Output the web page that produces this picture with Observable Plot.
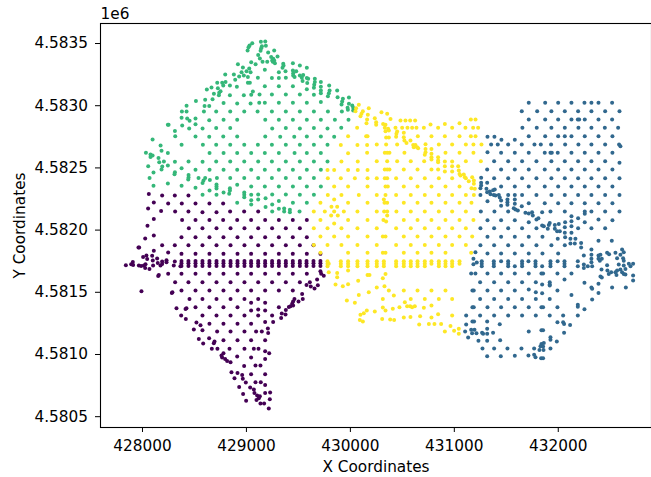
<!DOCTYPE html>
<html><head><meta charset="utf-8">
<style>html,body{margin:0;padding:0;background:#fff}svg{display:block}</style>
<script src="https://cdn.jsdelivr.net/npm/d3@7"></script>
<script src="https://cdn.jsdelivr.net/npm/@observablehq/plot@0.6"></script>
</head><body><div id="chart"></div>
<script>
// Eastings / northings are offsets from these bases (metres). Rows: [northing, [eastings...]]
const baseX = 427000, baseY = 4580000;
const xTicks = [428000, 429000, 430000, 431000, 432000];
const yTicks = [4580500, 4581000, 4581500, 4582000, 4582500, 4583000, 4583500];
const clusters = ["c0", "c1", "c2", "c3"];
const colors = ["#440154", "#31688e", "#35b779", "#fde725"];
const mainPurple = [1375,1442,1510,1577,1644,1712,1779,1847,1914,1981,2045,2113,2180,2247,2312,2379,2446,2514,2578,2645,2712];
const purpleRows = [
[2291,[1061]],[2278,[1189,1311,1442]],[2221,[1109]],[2213,[1247,1378,1510,1644,1776]],[2173,[1054]],[2154,[1179]],
[2149,[1314,1442,1843,1978,2113]],[2144,[1577,1712]],[2090,[1109]],[2082,[1381,1510,1644,1776,1911,2045,2180,2312,2446,2581]],
[2034,[1048]],[2015,[1446,1577,1712,1847,1981,2113,2247,2379,2514]],[1956,[1109]],[1932,[1026]],
[1943,[1375,1510,1644,1779,1914,2045,2180,2312,2446,2581]],[1878,[1189,1311,1442,1577,1712,1847,1981,2113,2247,2379,2514,2645]],
[1860,[961,968]],[1835,[1109]],[1819,[1247]],[1809,[1375,1510,1644,1779,1914,2045,2180,2312,2446,2581,2712]],
[1784,[1006]],[1795,[1038]],[1793,[1093]],[1768,[1045]],[1755,[1099]],[1771,[1141]],[1747,[1189,1311]],[1758,[1231]],[1742,[1231]],
[1752,mainPurple],[1734,mainPurple],[1712,mainPurple],
[1717,[840]],[1725,[891,1029]],[1744,[907]],[1720,[910]],[1715,[965,1013,1102,1173,1301]],[1712,[987]],[1696,[1026]],[1688,[1067]],[1736,[1147]],[1728,[1189]],[1709,[1365]],
[1650,[1247,1375,1510,1644,1779,1914,2045,2180,2312,2446,2581,2719]],[1640,[1157]],[1632,[1151]],[1669,[2712]],[1634,[2744]],[1602,[2680]],
[1581,[1314,1442,1577,1712,1847,1981,2113,2247,2379,2514,2610]],[1559,[2578]],[1546,[2619]],[1530,[2655]],[1557,[2687]],
[1514,[1375,1510,1644,1779,1914,2045,2180,2312,2446]],[1508,[990]],[1500,[1288]],[1495,[1282]],
[1447,[1452,1577,1712,1847,1981,2113,2462,2542]],[1487,[2536]],[1425,[2501,2449]],[1407,[2440]],[1388,[2424]],[1393,[2449]],[1382,[2408]],[1358,[2379]],[1380,[2312,1510,1644,1779,1914]],
[1415,[2045,2180]],[1372,[1327,1423]],[1366,[1414]],[1361,[2113]],[1353,[2045,2180]],
[1313,[1372,1577,1712,1847,1981,2113,2247]],[1329,[2340]],[1321,[2376]],[1294,[2334]],[1286,[1417]],
[1248,[1644,1779,1914,2045]],[1257,[1519]],[1235,[1558]],[1262,[2180,2257]],[1208,[2206]],
[1184,[1718,1847,1981,2093,2148]],[1200,[1494]],[1195,[1577]],[1173,[2209]],
[1125,[1542]],[1131,[1641]],[1104,[1693]],[1090,[1686]],[1088,[1584]],[1114,[1779,1914,2045,2180]],
[1047,[1667,1721,1837,1981,2071,2116]],[1026,[2180]],[1010,[2219,1779]],[991,[1760]],[975,[1766,2045]],[964,[1795,2180]],[948,[1814]],[938,[1847]],[983,[1911]],[908,[1978]],[911,[2087,2135]],
[857,[1856]],[852,[1914]],[809,[1885]],[836,[1959]],[804,[1965]],[841,[2045,2180]],[774,[1994]],[777,[2087,2138]],[755,[2180]],[739,[1930]],[734,[2036]],[718,[2071]],[691,[2077,2180]],[683,[1968]],[694,[2228]],[670,[2103]],[664,[2129]],[648,[2119]],[635,[2097]],[640,[2225]],[629,[1997]],[605,[2135,2170]],[565,[2215]]
];
const greenRows = [
[3517,[2181]],[3514,[2139]],[3503,[2056]],[3484,[2030]],[3482,[2187]],[3479,[2149]],[3471,[2020]],[3463,[2142]],[3444,[2011,2267]],[3442,[2136]],[3428,[2209]],[3407,[2113]],[3396,[2299]],[3391,[2238]],[3380,[2129]],[3377,[2258]],[3364,[2248,2267]],[3353,[2200,2155,2254]],[3350,[2046]],[3342,[2274,2447]],[3337,[2354]],[3334,[2088,1918]],[3324,[2357,2514]],[3308,[1966]],[3305,[2347,2581]],[3299,[2027]],[3289,[2177]],[3283,[2447]],[3278,[2001,2376,2479]],[3270,[1953,2040,2312]],[3262,[2450]],[3251,[1879,1796]],[3246,[2546]],[3243,[1975,2450,2514]],[3235,[1930]],[3230,[2014,2463]],[3224,[2110,2379,2533]],[3222,[2245,2312,2581]],[3216,[2594,2658]],[3208,[1892]],[3198,[2540]],[3190,[1799,2658,2716]],[3184,[1767,1719,2014,2033]],[3182,[2585]],[3168,[2652]],[3163,[1841,1777,2796]],[3157,[2177,2312,2447]],[3152,[1908,2716]],[3147,[1664]],[3144,[2649]],[3141,[1725]],[3133,[2581]],[3131,[1619]],[3123,[2800,2873,2716]],[3117,[1751]],[3115,[2062]],[3104,[1738]],[3101,[2716,2793]],[3096,[1687]],[3090,[2126,2245,2379,2514]],[3088,[2046,2649]],[3085,[1735,1841,1975]],[3077,[2784]],[3069,[2877]],[3066,[2986]],[3056,[2928]],[3053,[1674]],[3048,[1603]],[3037,[1514]],[3034,[2921]],[3029,[2716]],[3023,[2123,2177,2312,2447,2581]],[3021,[1780]],[3018,[1911,2040]],[3015,[2986]],[3010,[2915]],[3002,[3018]],[3000,[1424]],[2997,[1597,1642]],[2983,[2973,3027]],[2967,[2976]],[2962,[3027]],
[2954,[1379,1424,1591,1709,1844,1979,2107,2245,2379,2514,2649,2784,2918]],[2903,[1376]],[2897,[1430,1510]],[2887,[1780,1911,2181,2312,2447,2581,2716,2851,2982]],[2884,[1642]],[2879,[1453]],[2852,[1510]],[2847,[1244,1251]],[2841,[1382]],[2822,[2912]],[2820,[1709,1844,2379,2649]],[2817,[1449,1578,2248,2514,2780]],[2796,[1312]],[2755,[1315]],[2753,[1510,1777,1911,2181,2581,2716]],[2750,[1642,2325,2460,2844]],[2729,[1097]],[2686,[1376,1581,1709,1844,1979,2110,2245,2379,2514,2649,2780]],[2680,[1174]],[2637,[1183]],[2621,[1033]],[2619,[1244,1645,1780,1911,2046,2177,2312,2463,2581,2716]],[2608,[1077]],[2600,[1097]],[2587,[1077]],[2579,[1154]],[2552,[1443,1709,1844,1979,2113,2245,2379,2514,2649,2780,1206]],[2549,[1312,1578]],[2546,[1161]],[2520,[1244]],[2514,[1055]],[2512,[1190]],[2498,[1376]],[2487,[1183]],[2485,[1510,1645,1780,1911,2046,2177,2312,2447,2581,2716]],[2466,[1312]],[2463,[1106]],[2450,[1308]],[2442,[1443]],[2423,[1443]],[2418,[1068,1539,1603,1716,1844,1979,2113,2245,2379,2514,2649]],[2407,[1440]],[2402,[1648]],[2399,[1587]],[2378,[1578]],[2375,[1244]],[2367,[1712]],[2364,[1911]],[2356,[1106,1376]],[2351,[1712,2046,2177,2312,2447,2581,2716]],[2340,[1510]],[2337,[1841]],[2335,[1712]],[2319,[1645,1841]],[2303,[1780,1979]],[2292,[1834]],[2286,[2113,2248,2379]],[2284,[1578,1712,1979,2514,2649,2046]],[2265,[1979]],[2257,[2184]],[2246,[2113]],[2240,[2046]],[2233,[2312]],[2219,[1911,2447,2581]],[2206,[2046,2248]],[2185,[2184]],[2174,[2363]],[2171,[2312]],[2163,[2418]],[2150,[2248,2363,2511]],[2144,[2418]]
];
const mainYellow = [2780,2908,2978,3068,3165,3254,3322,3440,3514,3581,3646,3716,3851,3915,3979];
const yellowRows = [
[3007,[3081]],[2980,[3055,3177]],[2956,[3049,3120]],[2948,[3299]],[2935,[3107,3354]],[2927,[3168]],[2916,[3097]],[2900,[3235]],[2894,[3386]],[2889,[3161,4159,4204]],[2881,[3482,3530,3575,3623]],[2868,[3248]],[2860,[3155,4050]],[2854,[3315,3909]],[2849,[3771]],[2846,[3248,3338]],[2822,[3065,3331,3434,3498,3549,3594,3636,3707,3844,3979,4107,4181,4229]],[2814,[3363]],[2801,[3370]],[2795,[3338]],[2793,[3450]],[2782,[3514]],[2774,[3443]],[2755,[2978,3152,3165,3649,3780,3909,4050,4159,4204]],[2750,[3440]],[2747,[3514]],[2744,[3344,3370]],[2720,[3520,3578]],[2701,[3540]],[2691,[3723]],[2688,[3254,3344,3450,3851,3979,4111,4184,4261]],[2685,[2908,3068,3161,3604,3626]],[2667,[3610,3642]],[2659,[3652]],[2653,[3723,3780]],[2626,[3723]],[2621,[3161,3331,3354,3376,3520,3915,4050,4184]],[2618,[2978]],[2613,[3780]],[2605,[3716]],[2586,[3780,3844]],[2567,[3780]],[2559,[3844]],[2554,[3254,3354,3450,3581,3710,4111,4255]],[2551,[2914,3071,3909,3979]],[2546,[3844]],[2514,[3909,3979,4037]],[2487,[3331,3354,3376,3514,3646,3780,3844]],[2484,[2780,2844,2978,3071,3165]],[2479,[4043]],[2471,[3909,3979]],[2452,[4050]],[2447,[4091]],[2439,[4059]],[2425,[4101,4172]],[2417,[2783,2908,3043,3165,3254,3331,3354,3440,3581,3716,3851,3979,4111]],[2399,[4188]],[2393,[4139]],[2372,[4188]],[2350,[2844,2978,3165,3338,3360,3514,3646,3780,3915,4050]],[2337,[4165]],[2332,[4197]],[2283,[2783,2914,3081,3254,3338,3440,3581,3716,3851,3979,4111,4188]],[2246,[2844,3322]],[2219,[2712,2978,3165,3328,3354,3514,3646,3780,3915,4050,4165]],[2187,[2818,2873]],[2149,[2648,2754,2844,2937,3068,3254,3325,3354,3443,3581,3716,3851,3979,4111]],[2117,[2815,2879,3354]],[2082,[2712,2978,3165,3318,3514,3646,3780,3915,4050,4184]],[2069,[3344]],[2053,[2844]],[2015,[2648,2780,2914,3068,3254,3440,3581,3716,3851,3979,4111]],[1948,[2712,2844,2978,3165,3312,3338,3514,3646,3780,3915,4050,4172]],[1881,[2648,2780,2914,3068,3254,3440,3581,3716,3851,3979,4111]],[1817,[2712,2978,3165,3312,3338,3514,3646,3780,3915,4162]],
[1750,[...mainYellow,3780,4050]],[1729,[...mainYellow,3780,2792,4050]],[1710,mainYellow],
[1675,[2978]],[1662,[2792]],[1656,[2873]],[1648,[3338]],[1640,[3165,3184]],[1621,[2873]],[1613,[3312]],[1592,[3075]],[1565,[2978]],[1562,[2857]],[1549,[2927,3328]],[1538,[3254]],[1514,[3370,3514,3646,3780,3915]],[1501,[3177]],[1479,[3081]],[1474,[3418]],[1447,[3312,3581,3716,3851,3979]],[1434,[2966]],[1420,[3524]],[1415,[3043]],[1394,[3780]],[1388,[3546,3575,3620]],[1380,[3472,3594]],[1378,[3312]],[1375,[3707]],[1367,[3408]],[1353,[3158,3338]],[1345,[3235]],[1332,[3129]],[1324,[3844]],[1319,[3097]],[1313,[3979]],[1308,[3671]],[1302,[3578]],[1297,[3514,3780]],[1286,[3306]],[1281,[3383]],[1278,[3091,3421]],[1265,[3120]],[1246,[3755,3809,3873]],[1241,[3662]],[1230,[3963]],[1206,[4043]],[1190,[3998]],[1185,[3909]],[1166,[4043]]
];
const mainBlue = [4264,4380,4518,4652,4781,4925,5060];
const blueRows = [
[3023,[4716,4874,4999,5127,5252,5319,5387,5518]],[2956,[4649,4797,4934,5063,5191,5319,5451,5589]],[2889,[4716,4874,4999,5127,5188,5201,5255,5387,5518]],[2822,[4655,4793,4934,5063,5194,5319,5448,5576]],[2755,[4716,4874,4999,5063,5127,5255,5387,5521]],[2750,[4319,4386]],[2726,[4453,4582]],[2688,[4354,4418,4518,4649,4771,4832,4931,5066,5194,5319,5451,5585]],[2675,[5598]],[2626,[4319]],[2621,[4450,4582,4716,4870,4925,4938,4995,5127,5255,5387,5521]],[2554,[4383,4518,4652,4790,4934,5063,5191,5319,5451]],[2541,[5589]],[2487,[4316,4450,4582,4716,4870,4999,5127,5255,5387,5521]],[2420,[4258]],[2417,[4383,4518,4652,4790,4934,5063,5191,5319,5451,5589]],[2350,[4450,4582,4716,4870,4999,5127,5255,5387,5521]],
[2380,[4258,4316]],[2358,[4258]],[2337,[4251]],[2332,[4309]],[2310,[4341]],[2321,[4373]],[2326,[4389]],[2305,[4316]],[2289,[4348]],[2283,[4251,4380,4428,4518,4582,4652,4790,4934,5063,5191,5319,5451,5589]],[2278,[4396]],[2262,[4437]],
[2232,[4319]],[2238,[4450]],[2195,[4450]],[2246,[4511,4582]],[2224,[4511]],[2203,[4511]],[2211,[4582]],[2216,[4716,4870,4999,5127,5255,5387,5521]],[2176,[4572]],[2165,[4588]],[2157,[4611]],[2192,[4649]],[2139,[4684]],[2133,[4716]],[2144,[4748,4845]],[2117,[4755]],[2085,[4790]],[2096,[4809,5191]],[2149,[4255,4386,4518,4925,5063,5255,5319,5451,5589]],[2112,[5127]],[2131,[5255]],
[2064,[4716,5066,5255]],[2037,[4845]],[2031,[4861]],[2010,[4899,4967]],[2042,[4909,4967]],[2058,[4918]],[2050,[5005]],[1991,[4989,5015]],[2072,[5127]],[2080,[4319,4450,4582,5521]],[2085,[5387]],
[2015,[4251,4383,4518,4652,4790,5191,5319,5451]],[2031,[5127]],[2023,[5063]],[1978,[5063,5127]],[1930,[4995,5117,5165]],[1943,[5066]],[1892,[5117,5159]],[1897,[5220]],[1860,[5220]],[1914,[5387,5515]],
[1946,[4319,4450,4582,4716,4848]],[1879,[4251,4383,4518,4652,4790,4934,5063]],[1822,[4203]],[1812,[4319,4450,4582,4716,4848,4999]],
[1750,[...mainBlue,4450,4713,4994]],[1729,mainBlue],[1710,[...mainBlue,4582,4845]],[1769,[4184]],[1739,[4216]],[1725,[4184]],
[1750,[5188]],[1710,[5188,5284,5326]],[1723,[5246]],[1696,[5246]],[1844,[5319]],[1801,[5319]],[1769,[5319]],[1742,[5319]],[1796,[5246,5387]],[1801,[5406]],[1769,[5387,5419]],[1753,[5400]],[1817,[5470,5550]],[1806,[5489]],[1774,[5566,5624]],[1801,[5598]],[1844,[5614]],[1822,[5630]],[1753,[5630]],[1718,[5470]],[1683,[5416]],[1675,[5473]],[1627,[5406]],[1619,[5419]],[1648,[5486]],[1662,[5509,5550]],[1675,[5566]],[1723,[5582]],[1683,[5598]],[1715,[5630]],[1688,[5646]],[1662,[5614]],[1648,[5630]],[1643,[5646]],[1640,[5560]],[1729,[5679,5720]],[1710,[5695]],[1635,[5720]],[1595,[5720]],[1576,[5252]],[1538,[5319,5518,5650]],[1528,[5326]],[1568,[5387]],[1495,[5387]],
[1651,[4162,4203,4319,4450,4582,4716,4838,4854,4992,5127]],[1581,[4248,4383,4518,4652,4784,4918]],[1562,[4845,4918]],[1554,[4918]],[1603,[5060]],
[1514,[4174,4187,4319,4450,4582,4992]],[1522,[4716]],[1501,[4784]],[1493,[4845]],
[1447,[4248,4383,4518,4652,4784,4918]],[1479,[5127]],[1442,[5326]],[1380,[4174,4187,4319,4450,4582,4716,4838,4854,4992]],[1399,[5188]],[1383,[5188]],[1364,[5252]],
[1313,[4114,4248,4383,4518,4652,4784,4918,5047,5188]],[1265,[4174,4190,4316]],[1241,[4114]],[1244,[4437]],[1260,[4992,5047]],[1246,[5056]],[1238,[5114]],[1198,[4162,4194]],[1185,[4104,4716]],[1171,[4171,4213]],[1174,[4267,4373]],[1166,[4277,4316]],[1206,[4316]],[1136,[4133]],[1110,[4232,4316]],[1115,[4441]],[1195,[4838,4854]],[1174,[5056]],[1139,[4925]],[1118,[4925]],[1104,[4986]],[1093,[4861]],[1085,[4838]],[1067,[4829]],[1064,[4854]],[1048,[4271,4383,4511,4646,4768,4925]],[1037,[4819,4858]],[986,[4316,4447]],[989,[4582]],[992,[4713]],[997,[4768]],[978,[4781]],[970,[4835,4854]]
];
const expand = (rows, cluster) => rows.flatMap(([y, xs]) => xs.map(x => ({x: baseX + x, y: baseY + y, cluster})));
const points = [...expand(purpleRows, "c0"), ...expand(blueRows, "c1"), ...expand(greenRows, "c2"), ...expand(yellowRows, "c3")];
const font = "'DejaVu Sans', sans-serif";
const size = 15.3;
const chart = Plot.plot({
  width: 651, height: 477,
  marginLeft: 100, marginRight: 0, marginTop: 23, marginBottom: 50,
  style: {fontFamily: font, fontSize: size + "px", color: "#000", background: "#fff"},
  x: {domain: [427596, 432897]},
  y: {domain: [4580413, 4583661]},
  color: {domain: clusters, range: colors},
  marks: [
    Plot.dot(points, {x: "x", y: "y", fill: "cluster", r: 2}),
    Plot.frame({stroke: "#000", strokeWidth: 1.1}),
    Plot.axisX({ticks: xTicks, tickFormat: d => String(d), tickSize: 5, tickPadding: 8, stroke: "#000", strokeOpacity: 1, fontSize: size, label: "X Coordinates", labelAnchor: "center", labelArrow: "none", labelOffset: 44}),
    Plot.axisY({ticks: yTicks, tickFormat: d => (d / 1e6).toFixed(4), tickSize: 5, tickPadding: 7.5, stroke: "#000", strokeOpacity: 1, fontSize: size, label: "Y Coordinates", labelAnchor: "center", labelArrow: "none", labelOffset: 86}),
    Plot.text(["1e6"], {frameAnchor: "top-left", text: d => d, textAnchor: "start", lineAnchor: "bottom", dy: -5, fontSize: size, fill: "#000"})
  ]
});
document.getElementById("chart").append(chart);
</script></body></html>
